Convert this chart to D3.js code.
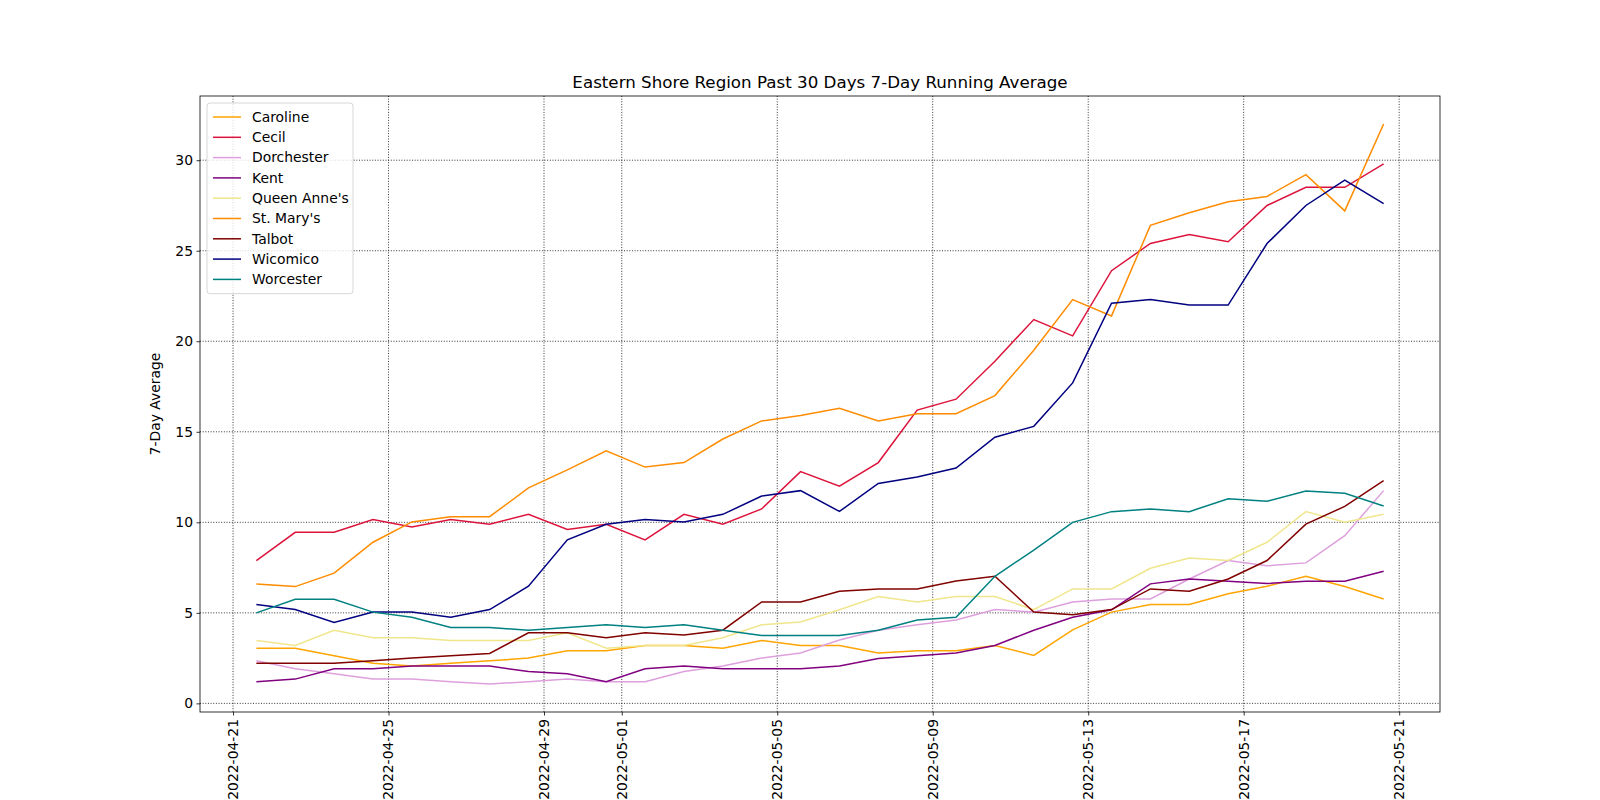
<!DOCTYPE html>
<html>
<head>
<meta charset="utf-8">
<script src="https://cdn.jsdelivr.net/npm/d3@7"></script>
<style>
  body { margin: 0; background: #fff; }
  text { font-family: "DejaVu Sans", sans-serif; }
</style>
</head>
<body>
<div id="chart"></div>
<script>
// 30 daily readings, first one on 2022-04-21 at 14:24
var firstDate = "2022-04-21T14:24:00Z";
var numDays = 30;

var counties = ["Caroline", "Cecil", "Dorchester", "Kent", "Queen Anne's", "St. Mary's", "Talbot", "Wicomico", "Worcester"];
var colors = ["orange", "crimson", "plum", "purple", "khaki", "darkorange", "maroon", "navy", "teal"];

var caroline = [3.05,3.05,2.63,2.21,2.06,2.21,2.35,2.5,2.9,2.9,3.2,3.2,3.05,3.47,3.2,3.2,2.78,2.9,2.9,3.2,2.65,4.06,5.04,5.46,5.46,6.05,6.47,7.02,6.45,5.76];
var cecil = [7.89,9.45,9.45,10.15,9.74,10.15,9.89,10.44,9.6,9.89,9.03,10.44,9.89,10.74,12.8,12.0,13.3,16.2,16.8,18.9,21.2,20.3,23.9,25.4,25.9,25.5,27.5,28.5,28.5,29.8];
var dorchester = [2.35,1.91,1.64,1.34,1.34,1.2,1.07,1.2,1.34,1.2,1.2,1.76,2.06,2.5,2.78,3.5,4.04,4.34,4.61,5.18,5.04,5.6,5.77,5.77,6.87,7.89,7.6,7.76,9.26,11.75];
var kent = [1.2,1.34,1.91,1.91,2.06,2.06,2.06,1.76,1.64,1.2,1.91,2.06,1.91,1.91,1.91,2.06,2.48,2.63,2.78,3.2,4.04,4.76,5.17,6.6,6.87,6.75,6.62,6.75,6.75,7.3];
var queenAnnes = [3.47,3.2,4.04,3.62,3.62,3.47,3.47,3.47,3.9,3.05,3.2,3.2,3.62,4.34,4.49,5.17,5.9,5.6,5.9,5.9,5.18,6.32,6.32,7.46,8.03,7.89,8.9,10.59,10.0,10.45];
var stMarys = [6.6,6.45,7.19,8.9,10.02,10.31,10.31,11.9,12.9,13.95,13.05,13.3,14.6,15.6,15.9,16.3,15.6,16.0,16.0,17.0,19.5,22.3,21.4,26.4,27.1,27.7,28.0,29.2,27.2,32.0];
var talbot = [2.21,2.21,2.21,2.35,2.5,2.63,2.76,3.9,3.9,3.62,3.9,3.77,4.04,5.6,5.6,6.19,6.32,6.32,6.76,7.02,5.04,4.89,5.18,6.32,6.19,6.87,7.89,9.9,10.88,12.3];
var wicomico = [5.46,5.18,4.47,5.04,5.04,4.76,5.18,6.47,9.03,9.89,10.15,10.02,10.44,11.45,11.75,10.6,12.15,12.5,13.0,14.7,15.3,17.7,22.1,22.3,22.0,22.0,25.4,27.5,28.9,27.6];
var worcester = [5.0,5.75,5.75,5.04,4.76,4.19,4.19,4.04,4.19,4.34,4.19,4.34,4.04,3.75,3.75,3.75,4.04,4.61,4.76,7.02,8.47,10.0,10.59,10.74,10.59,11.3,11.16,11.73,11.6,10.9];

var series = [caroline, cecil, dorchester, kent, queenAnnes, stMarys, talbot, wicomico, worcester];
var yTicks = [0, 5, 10, 15, 20, 25, 30];

var start = new Date(firstDate);
var dates = d3.range(numDays).map(function (i) { return d3.utcDay.offset(start, i); });

var width = 1600, height = 800;
var margin = { left: 200, right: 160, top: 96, bottom: 88 };
var iw = width - margin.left - margin.right;
var ih = height - margin.top - margin.bottom;

// matplotlib style 5% margins
var span = dates[numDays - 1] - dates[0];
var x = d3.scaleUtc()
  .domain([new Date(+dates[0] - span * 0.05), new Date(+dates[numDays - 1] + span * 0.05)])
  .range([0, iw]);
var allVals = d3.merge(series);
var ymin = d3.min(allVals), ymax = d3.max(allVals);
var ypad = (ymax - ymin) * 0.05;
var y = d3.scaleLinear().domain([ymin - ypad, ymax + ypad]).range([ih, 0]);

var svg = d3.select("#chart").append("svg")
  .attr("width", width).attr("height", height);
var g = svg.append("g").attr("transform", "translate(" + margin.left + "," + margin.top + ")");

var xTicks = d3.utcDay.every(4).range(new Date("2022-04-21T00:00:00Z"), new Date("2022-05-22T00:00:00Z"));
var fmt = d3.utcFormat("%Y-%m-%d");

// grid
g.selectAll(".vgrid").data(xTicks).enter().append("line")
  .attr("x1", function (d) { return x(d); }).attr("x2", function (d) { return x(d); })
  .attr("y1", 0).attr("y2", ih)
  .attr("stroke", "#000").attr("stroke-width", 0.8).attr("stroke-dasharray", "1,1.65");
g.selectAll(".hgrid").data(yTicks).enter().append("line")
  .attr("y1", function (d) { return y(d); }).attr("y2", function (d) { return y(d); })
  .attr("x1", 0).attr("x2", iw)
  .attr("stroke", "#000").attr("stroke-width", 0.8).attr("stroke-dasharray", "1,1.65");

// lines
var line = d3.line()
  .x(function (d, i) { return x(dates[i]); })
  .y(function (d) { return y(d); });
series.forEach(function (s, k) {
  g.append("path").datum(s)
    .attr("d", line)
    .attr("fill", "none")
    .attr("stroke", colors[k])
    .attr("stroke-width", 1.5);
});

// axes
var xAxis = g.append("g").attr("transform", "translate(0," + ih + ")")
  .call(d3.axisBottom(x).tickValues(xTicks).tickFormat(fmt).tickSize(3.5).tickPadding(3.5));
xAxis.selectAll("text")
  .attr("transform", "rotate(-90)")
  .attr("text-anchor", "end")
  .attr("x", -7).attr("y", 0).attr("dy", "0.32em")
  .style("font-size", "13.9px").attr("fill", "#000");
var yAxis = g.append("g")
  .call(d3.axisLeft(y).tickValues(yTicks).tickSize(3.5).tickPadding(3.5));
yAxis.selectAll("text").style("font-size", "13.9px").attr("fill", "#000");
[xAxis, yAxis].forEach(function (a) {
  a.select(".domain").remove();
  a.selectAll("line").attr("stroke", "#000").attr("stroke-width", 0.8);
});
g.append("rect").attr("width", iw).attr("height", ih)
  .attr("fill", "none").attr("stroke", "#000").attr("stroke-width", 0.8);

// labels
svg.append("text")
  .attr("x", margin.left + iw / 2).attr("y", margin.top - 8)
  .attr("text-anchor", "middle").style("font-size", "16.7px")
  .text("Eastern Shore Region Past 30 Days 7-Day Running Average");
svg.append("text")
  .attr("transform", "translate(" + (margin.left - 40) + "," + (margin.top + ih / 2) + ") rotate(-90)")
  .attr("text-anchor", "middle").style("font-size", "13.9px")
  .text("7-Day Average");

// legend
var lg = g.append("g").attr("transform", "translate(7,7)");
var rowH = 20.3;
lg.append("rect").attr("width", 146).attr("height", counties.length * rowH + 8)
  .attr("rx", 3).attr("fill", "#fff").attr("fill-opacity", 0.8)
  .attr("stroke", "#ccc").attr("stroke-width", 0.8);
counties.forEach(function (c, k) {
  var yy = 14 + k * rowH;
  lg.append("line").attr("x1", 6).attr("x2", 34).attr("y1", yy).attr("y2", yy)
    .attr("stroke", colors[k]).attr("stroke-width", 1.5);
  lg.append("text").attr("x", 45).attr("y", yy).attr("dy", "0.35em")
    .style("font-size", "13.9px").text(c);
});
</script>
</body>
</html>
